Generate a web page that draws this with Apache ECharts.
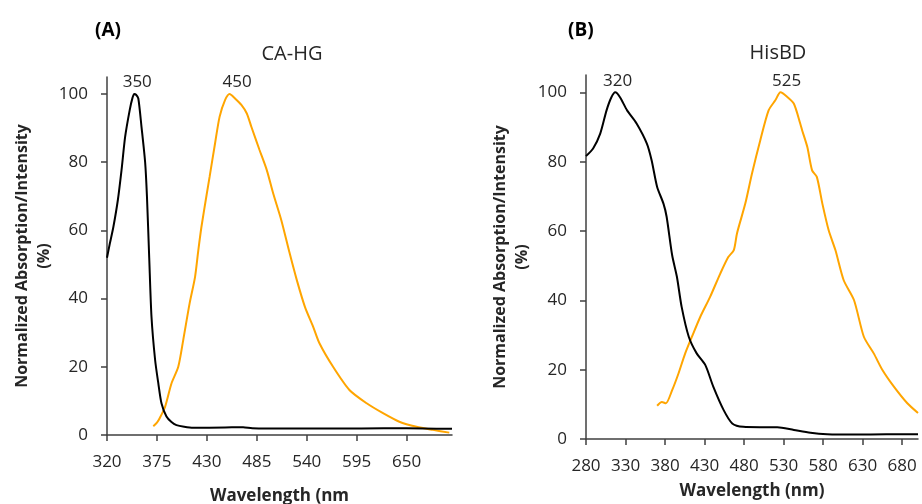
<!DOCTYPE html>
<html>
<head>
<meta charset="utf-8">
<script src="https://cdn.jsdelivr.net/npm/echarts@6/dist/echarts.min.js"></script>
<style>html,body{margin:0;padding:0;background:#fff}#c{width:922px;height:504px}</style>
</head>
<body>
<div id="c"></div>
<script>
// ---- Panel A : CA-HG ----
const absX_A = [320,323,327,332,336,340,345,348,350,352,354.5,358,362,364,366.5,369,373,376.5,380,385.5,391,396.5,405,415,450,470,480,520,560,600,650,700];
const absY_A = [52,56,61,69,77.7,87.5,95.3,98.8,100,99.8,98.7,90.4,80,70,52,34.7,22,15.2,9.3,5.4,3.8,2.9,2.4,2.1,2.2,2.3,2.0,1.9,1.9,1.9,2.0,1.8];
const emX_A = [371,375,378,384,391,398.5,404,411,417,420.5,424,430,433,439,444,450,455,461,468,474,479,488,496,503,512,521,529,538,547,554,569,587,606,624,642,661,679,697];
const emY_A = [2.6,3.6,4.9,8.3,15.1,20,27.9,38.6,46.4,54,61,70.9,75.7,85.5,93.3,98.2,100,98.7,96.8,94.3,90.4,83.6,77.7,70.9,63,53.5,45.5,37.6,31.8,26.9,20,13.2,9.3,6.4,3.9,2.4,1.5,0.7];
const xTicks_A = [320,375,430,485,540,595,650];
const peaks_A = [[350,100,'350'],[450,100,'450']];

// ---- Panel B : HisBD ----
const absX_B = [280,289,298,306,312,317,323,332,344,357,363,370,378,382,389,395,401,410,420,431,441,454,465,479,500,522,543,564,585,620,660,700];
const absY_B = [81.6,83.8,88.1,94.8,98.5,100,98.6,94.8,91,85.2,80.4,72.7,67.9,64.1,53,46.8,38.1,29.5,24.7,21.3,15.1,8.4,4.5,3.5,3.4,3.4,2.6,1.8,1.4,1.3,1.35,1.35];
const emX_B = [370,376,381,389,397,405.5,414,424.5,437,450,460,467,471,481.5,490,500.5,511,519.5,526,534,543,551,553.5,560,566,572,579,587,595.5,606,619,631.5,644,655,669.5,686.5,700];
const emY_B = [9.6,10.7,10.3,14.1,18.9,24.7,29.5,35.2,41,47.8,52.5,54.5,59.3,67.9,76.6,86.2,94.8,97.7,100,98.8,96.7,91,89,84.2,77.5,75.6,67.9,60.2,54.5,45.8,40.1,29.5,24.7,19.9,15.1,10.3,7.5];
const xTicks_B = [280,330,380,430,480,530,580,630,680];
const peaks_B = [[320,100,'320'],[525,100,'525']];

const yTicks = [0,20,40,60,80,100];

function zip(xs, ys){ return xs.map((x,i)=>[x,ys[i]]); }

const FONT = '"Open Sans", sans-serif';
const TXT = '#262626';
const AX = '#404040';

function xAxis(idx, min, max, ticks, name, nameGap){
  return {
    type:'value', gridIndex:idx, min:min, max:max,
    name:name, nameLocation:'middle', nameGap:nameGap,
    nameTextStyle:{fontFamily:FONT, fontWeight:'bold', fontSize:17, color:TXT},
    axisLine:{show:true, onZero:false, lineStyle:{color:AX, width:1.5}},
    axisTick:{show:true, length:6, customValues:ticks, lineStyle:{color:AX, width:1.5}},
    axisLabel:{customValues:ticks, margin:19, fontFamily:FONT, fontSize:17, color:TXT},
    splitLine:{show:false}
  };
}
function yAxis(idx, nameGap){
  return {
    type:'value', gridIndex:idx, min:0, max:105,
    name:'Normalized Absorption/Intensity\n(%)', nameLocation:'middle', nameGap:nameGap, nameRotate:90,
    nameTextStyle:{fontFamily:FONT, fontWeight:'bold', fontSize:16, color:TXT, lineHeight:22, align:'center'},
    axisLine:{show:true, onZero:false, lineStyle:{color:AX, width:1.5}},
    axisTick:{show:true, length:6, customValues:yTicks, lineStyle:{color:AX, width:1.5}},
    axisLabel:{customValues:yTicks, margin:19, fontFamily:FONT, fontSize:17, color:TXT},
    splitLine:{show:false}
  };
}
function markPeaks(peaks, offsets){
  return {
    symbol:'circle', symbolSize:0, silent:true,
    label:{show:true, position:'top', distance:3, fontFamily:FONT, fontSize:17, color:TXT,
           formatter:p=>p.name},
    data: peaks.map((p,i)=>({coord:[p[0],p[1]], name:p[2], label:{offset:offsets[i]}}))
  };
}
function line(idx, data, color, mp){
  const s = {type:'line', xAxisIndex:idx, yAxisIndex:idx, data:data, showSymbol:false, symbol:'none',
    smooth:0.25, lineStyle:{color:color, width:2}, itemStyle:{color:color}, z:color==='#000000'?3:2};
  if (mp) s.markPoint = mp;
  return s;
}

const chart = echarts.init(document.getElementById('c'), null, {renderer:'canvas'});
chart.setOption({
  animation:false,
  backgroundColor:'#ffffff',
  title:[
    {text:'(A)', left:95, top:21, padding:0, textStyle:{fontFamily:FONT, fontWeight:'bold', fontSize:19, color:'#000'}},
    {text:'CA-HG', left:292, top:44, padding:0, textAlign:'center', textStyle:{fontFamily:FONT, fontWeight:'normal', fontSize:20, color:TXT}},
    {text:'(B)', left:568, top:21, padding:0, textStyle:{fontFamily:FONT, fontWeight:'bold', fontSize:19, color:'#000'}},
    {text:'HisBD', left:778, top:43, padding:0, textAlign:'center', textStyle:{fontFamily:FONT, fontWeight:'normal', fontSize:20, color:TXT}}
  ],
  grid:[
    {left:107, right:470, top:77, bottom:69, containLabel:false, outerBoundsMode:'none'},
    {left:586, right:4, top:75, bottom:65, containLabel:false, outerBoundsMode:'none'}
  ],
  xAxis:[
    xAxis(0, 320, 700, xTicks_A, 'Wavelength (nm', 53),
    xAxis(1, 280, 700, xTicks_B, 'Wavelength (nm)', 44)
  ],
  yAxis:[ yAxis(0, 45), yAxis(1, 53) ],
  series:[
    line(0, zip(emX_A, emY_A), '#FFA500', markPeaks([peaks_A[1]], [[12,0]])),
    line(0, zip(absX_A, absY_A), '#000000', markPeaks([peaks_A[0]], [[3,0]])),
    line(1, zip(emX_B, emY_B), '#FFA500', markPeaks([peaks_B[1]], [[7,0]])),
    line(1, zip(absX_B, absY_B), '#000000', markPeaks([peaks_B[0]], [[0,0]]))
  ]
});
</script>
</body>
</html>
